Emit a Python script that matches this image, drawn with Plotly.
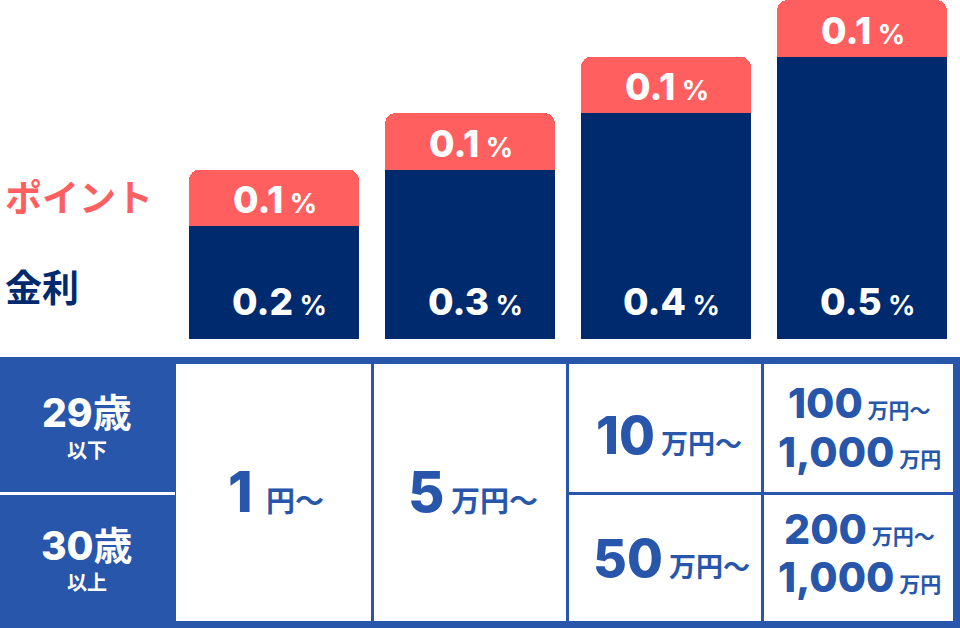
import plotly.graph_objects as go

# ---- data ----
categories = ["1円〜", "5万円〜", "10万円〜", "100万円〜"]
interest = [0.2, 0.3, 0.4, 0.5]      # 金利 (%)
points = [0.1, 0.1, 0.1, 0.1]        # ポイント (%)
series_names = ["金利", "ポイント"]
age_labels = [("29", "歳", "以下"), ("30", "歳", "以上")]
col_amounts = [("1", "円〜"), ("5", "万円〜")]
young_amounts = [("10", "万円〜"), [("100", "万円〜"), ("1,000", "万円")]]
old_amounts = [("50", "万円〜"), [("200", "万円〜"), ("1,000", "万円")]]

# ---- style ----
NAVY = "#002A6E"
CORAL = "#FF5F5F"
BLUE = "#2756AA"
W, H = 960, 628
CJK = "Noto Sans CJK JP"
NUM = "Inter, Noto Sans, sans-serif"

def px(x):
    return x / W

def py(y):
    return 1 - y / H

fig = go.Figure()
fig.add_trace(go.Bar(x=categories, y=interest, name=series_names[0],
                     marker=dict(color=NAVY, line=dict(width=0)), hoverinfo="skip"))
fig.add_trace(go.Bar(x=categories, y=points, name=series_names[1],
                     marker=dict(color=CORAL, line=dict(width=0)), hoverinfo="skip"))

def pct(v):
    return (f"<span style='font-weight:800'>{v}</span>"
            f"<span style='font-size:27px;font-weight:700'>&nbsp;%</span>")

ann = []
# bar labels
for c, n, p in zip(categories, interest, points):
    ann.append(dict(x=c, y=n + p / 2, xref="x", yref="y", yshift=-2, xshift=1,
                    xanchor="center", yanchor="middle", text=pct(p),
                    showarrow=False, font=dict(family=NUM, size=37, color="white")))
    ann.append(dict(x=c, y=0, xref="x", yref="y", yshift=38, xshift=5,
                    xanchor="center", yanchor="middle", text=pct(n),
                    showarrow=False, font=dict(family=NUM, size=37, color="white")))

# legend-like labels on left
ann.append(dict(x=px(3), y=py(196), xref="paper", yref="paper", xanchor="left", yanchor="middle",
                text="<b>ポイント</b>", showarrow=False,
                font=dict(family=CJK, size=37, color=CORAL)))
ann.append(dict(x=px(3), y=py(286), xref="paper", yref="paper", xanchor="left", yanchor="middle",
                text="<b>金利</b>", showarrow=False,
                font=dict(family=CJK, size=37, color=NAVY)))

# ---- table shapes ----
shapes = []
def rect(x0, y0, x1, y1, color):
    shapes.append(dict(type="rect", xref="paper", yref="paper",
                       x0=px(x0), x1=px(x1), y0=py(y1), y1=py(y0),
                       fillcolor=color, line=dict(width=0), layer="above"))

rect(0, 357, 960, 628, BLUE)
rect(0, 492, 175, 495, "white")
rect(176, 364, 371, 621, "white")
rect(374, 364, 566, 621, "white")
rect(569, 364, 761, 492, "white")
rect(569, 495, 761, 621, "white")
rect(764, 364, 953, 492, "white")
rect(764, 495, 953, 621, "white")

def txt(x, y, big, small, bsize, ssize, gap="&nbsp;", color=BLUE):
    ann.append(dict(x=px(x), y=py(y), xref="paper", yref="paper",
                    xanchor="center", yanchor="middle",
                    text=f"<span style='font-family:{NUM};font-weight:800'>{big}</span>"
                         f"<span style='font-size:{ssize}px'><b>{gap}{small}</b></span>",
                    showarrow=False, font=dict(family=CJK, size=bsize, color=color)))

# age header
for (num, unit, sub), yc, ys in zip(age_labels, [410, 543], [450, 581]):
    ann.append(dict(x=px(87), y=py(yc), xref="paper", yref="paper",
                    xanchor="center", yanchor="middle",
                    text=f"<span style='font-family:{NUM};font-weight:800'>{num}</span><b>{unit}</b>",
                    showarrow=False, font=dict(family=CJK, size=39, color="white")))
    ann.append(dict(x=px(87), y=py(ys), xref="paper", yref="paper",
                    xanchor="center", yanchor="middle",
                    text=f"<b>{sub}</b>", showarrow=False,
                    font=dict(family=CJK, size=20, color="white")))

# amount cells
txt(276, 492, col_amounts[0][0], col_amounts[0][1], 56, 29, gap="&nbsp;&nbsp;")
txt(473, 492, col_amounts[1][0], col_amounts[1][1], 56, 29)
txt(669, 435, young_amounts[0][0], young_amounts[0][1], 52, 27)
txt(671, 558, old_amounts[0][0], old_amounts[0][1], 52, 27)
for lines, ys in zip([young_amounts[1], old_amounts[1]], [(403, 452), (529, 577)]):
    for (big, small), yy in zip(lines, ys):
        txt(859, yy, big, small, 41, 21)

fig.update_layout(
    width=W, height=H, margin=dict(l=0, r=0, t=0, b=0),
    paper_bgcolor="white", plot_bgcolor="white",
    barmode="stack", bargap=26 / 196, barcornerradius=11,
    showlegend=False,
    xaxis=dict(domain=[176 / W, 1], range=[-0.5, 3.5], visible=False, fixedrange=True),
    yaxis=dict(domain=[(H - 339) / H, 1], range=[0, 0.6], visible=False, fixedrange=True),
    annotations=ann, shapes=shapes,
)
fig.write_html("out.html", config={"displayModeBar": False},
               post_script="document.body.style.margin='0';document.body.style.overflow='hidden';")
